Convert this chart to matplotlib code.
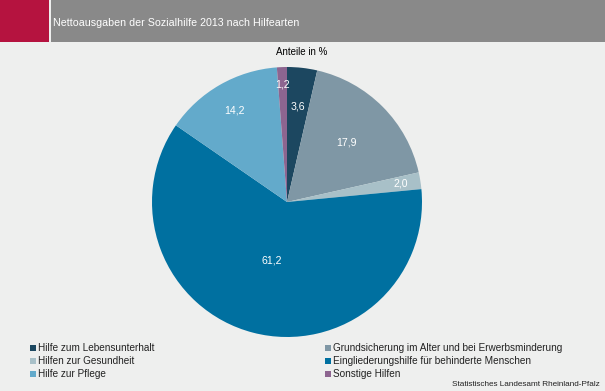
import numpy as np
import matplotlib.pyplot as plt
from matplotlib.patches import Rectangle

plt.rcParams['font.family'] = ['Liberation Sans', 'DejaVu Sans']

# Data
categories = ['Hilfe zum Lebensunterhalt',
              'Grundsicherung im Alter und bei Erwerbsminderung',
              'Hilfen zur Gesundheit',
              'Eingliederungshilfe für behinderte Menschen',
              'Hilfe zur Pflege',
              'Sonstige Hilfen']
values = [3.6, 17.9, 2.0, 61.2, 14.2, 1.2]
colors = ['#1c4760', '#7f97a5', '#a8c0c8', '#0070a0', '#63aacb', '#8d6590']
label_dist = [0.71, 0.62, 0.85, 0.45, 0.78, 0.87]

title = 'Nettoausgaben der Sozialhilfe 2013 nach Hilfearten'
subtitle = 'Anteile in %'
source = 'Statistisches Landesamt Rheinland-Pfalz'

W, H = 605, 391
fig = plt.figure(figsize=(W / 100, H / 100), dpi=100)
fig.patch.set_facecolor('#eeefee')

# header band
fig.patches.append(Rectangle((0, 1 - 42 / H), 49 / W, 42 / H, transform=fig.transFigure,
                             facecolor='#b5133f', edgecolor='none'))
fig.patches.append(Rectangle((51 / W, 1 - 42 / H), 1 - 51 / W, 42 / H, transform=fig.transFigure,
                             facecolor='#898989', edgecolor='none'))
fig.text(53 / W, 1 - 23 / H, title, color='white', fontsize=7.7, va='center', ha='left')
fig.text(302 / W, 1 - 52 / H, subtitle, color='black', fontsize=7, va='center', ha='center')

# pie
ax = fig.add_axes([152 / W, (H - 337) / H, 270 / W, 270 / H])
wedges, _ = ax.pie(values, colors=colors, startangle=90, counterclock=False,
                   wedgeprops=dict(linewidth=0))
for w, v, d in zip(wedges, values, label_dist):
    ang = np.deg2rad((w.theta1 + w.theta2) / 2)
    ax.text(d * np.cos(ang), d * np.sin(ang), f'{v:.1f}'.replace('.', ','),
            color='white', fontsize=7.6, ha='center', va='center')
ax.set_aspect('equal')
ax.set_xlim(-1, 1)
ax.set_ylim(-1, 1)
ax.axis('off')

# legend
col_x = [30, 325]
row_y = [348, 361, 374]
for i, (cat, c) in enumerate(zip(categories, colors)):
    x = col_x[i % 2]
    y = row_y[i // 2]
    fig.patches.append(Rectangle((x / W, 1 - (y + 3) / H), 6 / W, 6 / H, transform=fig.transFigure,
                                 facecolor=c, edgecolor='none'))
    fig.text((x + 8) / W, 1 - y / H, cat, fontsize=7.2, va='center', ha='left', color='#222222')

fig.text(600 / W, 1 - 384 / H, source, fontsize=5.9, va='center', ha='right', color='#222222')

fig.savefig('out.png', dpi=100, facecolor=fig.get_facecolor())
